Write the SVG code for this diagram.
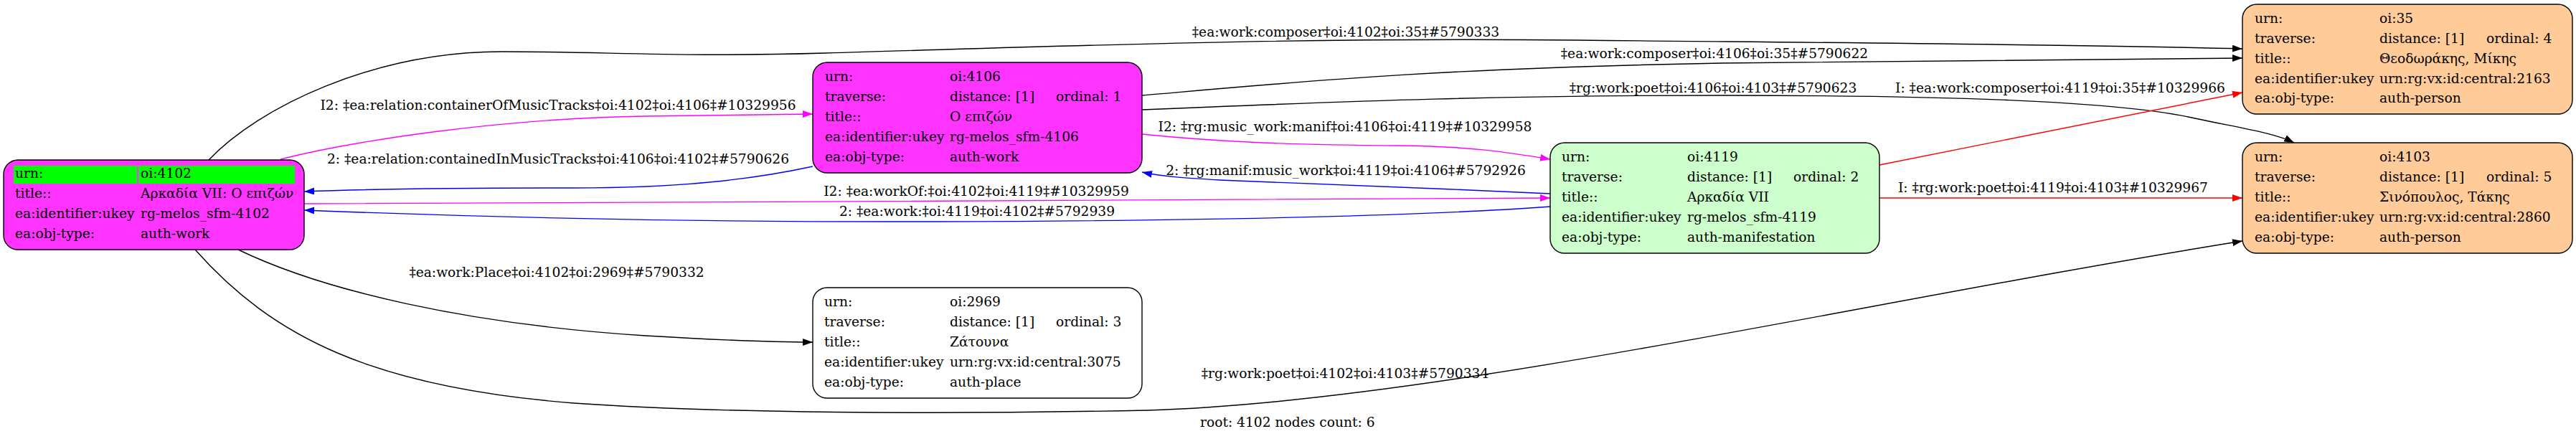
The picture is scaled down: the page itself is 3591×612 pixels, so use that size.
<svg xmlns="http://www.w3.org/2000/svg" width="3591" height="612" viewBox="0 0 3591 612">
<style>
text{font-family:"DejaVu Serif","Liberation Serif",serif;font-size:18.67px;fill:#000}
.lbl{text-anchor:middle}
.box{stroke:#000;stroke-width:1.4}
.e{fill:none;stroke-width:1.4}
.k{stroke:#000}.r{stroke:#ff0000}.m{stroke:#ff00ff}.b{stroke:#0000ff}
</style>
<defs>
<marker id="ak" markerUnits="userSpaceOnUse" markerWidth="15" markerHeight="11" refX="14" refY="5" orient="auto"><path d="M0,0L14,5L0,10z" fill="#000"/></marker>
<marker id="ar" markerUnits="userSpaceOnUse" markerWidth="15" markerHeight="11" refX="14" refY="5" orient="auto"><path d="M0,0L14,5L0,10z" fill="#ff0000"/></marker>
<marker id="am" markerUnits="userSpaceOnUse" markerWidth="15" markerHeight="11" refX="14" refY="5" orient="auto"><path d="M0,0L14,5L0,10z" fill="#ff00ff"/></marker>
<marker id="ab" markerUnits="userSpaceOnUse" markerWidth="15" markerHeight="11" refX="14" refY="5" orient="auto"><path d="M0,0L14,5L0,10z" fill="#0000ff"/></marker>
</defs>
<rect width="3591" height="612" fill="#fff"/>
<g id="connectors">
<path class="e k" marker-end="url(#ak)" d="M291,223 C360,150 520,72 700,72 C850,72 950,80 1150,74 C1500,64 1800,52 2200,56 C2600,60 2900,62 3126,68"/>
<text class="lbl" x="1876" y="51">‡ea:work:composer‡oi:4102‡oi:35‡#5790333</text>
<path class="e k" marker-end="url(#ak)" d="M1592,133 C1800,115 2000,95 2400,88 C2700,83 2950,81 3126,81"/>
<text class="lbl" x="2390" y="81">‡ea:work:composer‡oi:4106‡oi:35‡#5790622</text>
<path class="e k" marker-end="url(#ak)" d="M1592,153 C1900,140 2100,133 2400,133 C2700,133 2950,140 3060,165 C3120,178 3170,185 3198,199"/>
<text class="lbl" x="2388" y="129">‡rg:work:poet‡oi:4106‡oi:4103‡#5790623</text>
<path class="e r" marker-end="url(#ar)" d="M2620,230 L3126,129"/>
<text class="lbl" x="2872" y="129">I: ‡ea:work:composer‡oi:4119‡oi:35‡#10329966</text>
<path class="e r" marker-end="url(#ar)" d="M2620,276 L3126,276"/>
<text class="lbl" x="2862" y="268">I: ‡rg:work:poet‡oi:4119‡oi:4103‡#10329967</text>
<path class="e k" marker-end="url(#ak)" d="M272,348 C380,470 520,540 800,562 C1000,576 1300,578 1600,572 C2000,560 2600,420 3126,336"/>
<text class="lbl" x="1875" y="527">‡rg:work:poet‡oi:4102‡oi:4103‡#5790334</text>
<path class="e k" marker-end="url(#ak)" d="M332,348 C450,405 650,452 900,468 C1000,474 1080,477 1133,477"/>
<text class="lbl" x="776" y="386">‡ea:work:Place‡oi:4102‡oi:2969‡#5790332</text>
<path class="e m" marker-end="url(#am)" d="M391,222 C500,195 700,165 900,162 C1000,160 1080,159 1133,159"/>
<text class="lbl" x="778" y="153">I2: ‡ea:relation:containerOfMusicTracks‡oi:4102‡oi:4106‡#10329956</text>
<path class="e b" marker-end="url(#ab)" d="M1133,232 C1050,250 950,262 800,262 C650,262 500,264 424,267"/>
<text class="lbl" x="778" y="228">2: ‡ea:relation:containedInMusicTracks‡oi:4106‡oi:4102‡#5790626</text>
<path class="e m" marker-end="url(#am)" d="M424,284 C1000,282 1600,279 2161,276"/>
<text class="lbl" x="1361" y="273">I2: ‡ea:workOf:‡oi:4102‡oi:4119‡#10329959</text>
<path class="e b" marker-end="url(#ab)" d="M2161,288 C2000,300 1700,308 1300,309 C900,310 600,300 424,293"/>
<text class="lbl" x="1362" y="301">2: ‡ea:work:‡oi:4119‡oi:4102‡#5792939</text>
<path class="e m" marker-end="url(#am)" d="M1592,187 C1700,198 1800,202 1950,203 C2050,204 2100,212 2161,222"/>
<text class="lbl" x="1875" y="183">I2: ‡rg:music_work:manif‡oi:4106‡oi:4119‡#10329958</text>
<path class="e b" marker-end="url(#ab)" d="M2161,270 C2000,262 1800,256 1700,251 C1650,248 1620,246 1592,240"/>
<text class="lbl" x="1876" y="244">2: ‡rg:manif:music_work‡oi:4119‡oi:4106‡#5792926</text>
</g>
<g id="n4102">
<rect class="box" x="5" y="223" width="419" height="125" rx="20" fill="#ff33ff"/>
<rect x="19" y="231" width="172" height="25" fill="#00ff00"/>
<rect x="193" y="231" width="218" height="25" fill="#00ff00"/>
<text x="21" y="248">urn:</text><text x="196" y="248">oi:4102</text>
<text x="21" y="276">title::</text><text x="196" y="276">Αρκαδία VII: Ο επιζών</text>
<text x="21" y="304">ea:identifier:ukey</text><text x="196" y="304">rg-melos_sfm-4102</text>
<text x="21" y="332">ea:obj-type:</text><text x="196" y="332">auth-work</text>
</g>
<g id="n4106">
<rect class="box" x="1133" y="87" width="459" height="154" rx="20" fill="#ff33ff"/>
<text x="1150" y="113">urn:</text><text x="1324" y="113">oi:4106</text>
<text x="1150" y="141">traverse:</text><text x="1324" y="141">distance: [1]</text><text x="1472" y="141">ordinal: 1</text>
<text x="1150" y="169">title::</text><text x="1324" y="169">Ο επιζών</text>
<text x="1150" y="197">ea:identifier:ukey</text><text x="1324" y="197">rg-melos_sfm-4106</text>
<text x="1150" y="225">ea:obj-type:</text><text x="1324" y="225">auth-work</text>
</g>
<g id="n4119">
<rect class="box" x="2161" y="199" width="459" height="154" rx="20" fill="#ccffcc"/>
<text x="2177" y="225">urn:</text><text x="2352" y="225">oi:4119</text>
<text x="2177" y="253">traverse:</text><text x="2352" y="253">distance: [1]</text><text x="2500" y="253">ordinal: 2</text>
<text x="2177" y="281">title::</text><text x="2352" y="281">Αρκαδία VII</text>
<text x="2177" y="309">ea:identifier:ukey</text><text x="2352" y="309">rg-melos_sfm-4119</text>
<text x="2177" y="337">ea:obj-type:</text><text x="2352" y="337">auth-manifestation</text>
</g>
<g id="n35">
<rect class="box" x="3126" y="6" width="460" height="153" rx="20" fill="#ffcc99"/>
<text x="3143" y="32">urn:</text><text x="3317" y="32">oi:35</text>
<text x="3143" y="60">traverse:</text><text x="3317" y="60">distance: [1]</text><text x="3466" y="60">ordinal: 4</text>
<text x="3143" y="88">title::</text><text x="3317" y="88">Θεοδωράκης, Μίκης</text>
<text x="3143" y="116">ea:identifier:ukey</text><text x="3317" y="116">urn:rg:vx:id:central:2163</text>
<text x="3143" y="143">ea:obj-type:</text><text x="3317" y="143">auth-person</text>
</g>
<g id="n4103">
<rect class="box" x="3126" y="199" width="460" height="154" rx="20" fill="#ffcc99"/>
<text x="3143" y="225">urn:</text><text x="3317" y="225">oi:4103</text>
<text x="3143" y="253">traverse:</text><text x="3317" y="253">distance: [1]</text><text x="3466" y="253">ordinal: 5</text>
<text x="3143" y="281">title::</text><text x="3317" y="281">Σινόπουλος, Τάκης</text>
<text x="3143" y="309">ea:identifier:ukey</text><text x="3317" y="309">urn:rg:vx:id:central:2860</text>
<text x="3143" y="337">ea:obj-type:</text><text x="3317" y="337">auth-person</text>
</g>
<g id="n2969">
<rect class="box" x="1133" y="401" width="459" height="154" rx="20" fill="#ffffff"/>
<text x="1149" y="427">urn:</text><text x="1324" y="427">oi:2969</text>
<text x="1149" y="455">traverse:</text><text x="1324" y="455">distance: [1]</text><text x="1472" y="455">ordinal: 3</text>
<text x="1149" y="483">title::</text><text x="1324" y="483">Ζάτουνα</text>
<text x="1149" y="511">ea:identifier:ukey</text><text x="1324" y="511">urn:rg:vx:id:central:3075</text>
<text x="1149" y="539">ea:obj-type:</text><text x="1324" y="539">auth-place</text>
</g>
<text x="1673" y="595">root: 4102 nodes count: 6</text>
</svg>
